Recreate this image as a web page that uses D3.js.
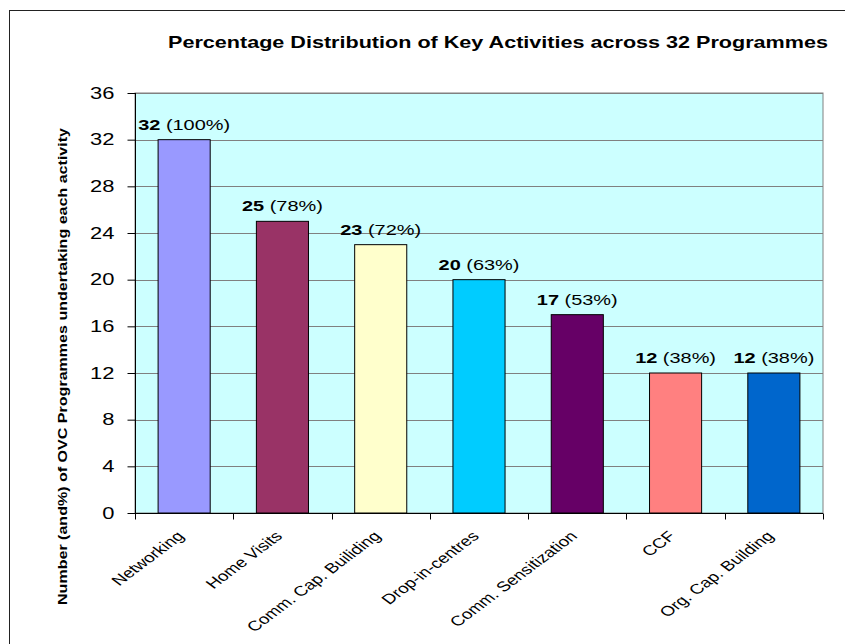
<!DOCTYPE html>
<html><head><meta charset="utf-8">
<script src="https://cdn.jsdelivr.net/npm/d3@7"></script>
<style>body{margin:0;background:#fff}svg{display:block}text{font-family:"Liberation Sans",Arial,sans-serif}</style>
</head><body>
<script>
const categories = ["Networking","Home Visits","Comm. Cap. Builiding","Drop-in-centres","Comm. Sensitization","CCF","Org. Cap. Building"];
const counts = [32,25,23,20,17,12,12];
const percents = [100,78,72,63,53,38,38];
const colors = ["#9999FF","#993366","#FFFFCC","#00CCFF","#660066","#FF8080","#0066CC"];
const yTicks = [0,4,8,12,16,20,24,28,32,36];
const title = "Percentage Distribution of Key Activities across 32 Programmes";
const yTitle = "Number (and%) of OVC Programmes undertaking each activity";

const W=845,H=644, SX=1.33;
const svg=d3.select("body").append("svg").attr("width",W).attr("height",H);
svg.append("rect").attr("x",9.5).attr("y",10.5).attr("width",900).attr("height",700).attr("fill","#fff").attr("stroke","#222").attr("stroke-width",1);

const L=135,R=823,T=93,B=513;
const x=d3.scaleBand().domain(categories).range([L,R]).paddingInner(0.47).paddingOuter(0.235);
const xb=d3.scaleBand().domain(categories).range([L,R]);
const y=d3.scaleLinear().domain([0,36]).range([B,T]);

svg.append("rect").attr("x",L).attr("y",T).attr("width",R-L).attr("height",B-T).attr("fill","#CCFFFF").attr("stroke","#808080");
svg.append("g").selectAll("line").data(yTicks.slice(1)).join("line")
  .attr("x1",L).attr("x2",R).attr("y1",d=>Math.round(y(d))+0.5).attr("y2",d=>Math.round(y(d))+0.5).attr("stroke","#808080");

svg.append("g").selectAll("rect").data(categories).join("rect")
  .attr("x",d=>x(d)).attr("width",x.bandwidth())
  .attr("y",(d,i)=>y(counts[i])).attr("height",(d,i)=>B-y(counts[i]))
  .attr("fill",(d,i)=>colors[i]).attr("stroke","#000").attr("stroke-width",1);

// y axis
const ya=svg.append("g").attr("transform",`translate(${L+0.5},0)`).call(d3.axisLeft(y).tickValues(yTicks).tickSize(8));
ya.selectAll("text").attr("font-size",16.5).attr("fill","#000").style("font-family","Liberation Sans, Arial")
  .attr("x",-21/SX).attr("transform",`scale(${SX},1)`);
ya.selectAll("line,path").attr("stroke","#000");
ya.select(".domain").attr("d",`M0,${T}V${B}`);

// x axis
const xa=svg.append("g").attr("transform",`translate(0,${B+0.5})`);
xa.append("line").attr("x1",L).attr("x2",R).attr("stroke","#000");
xa.selectAll("line.t").data(d3.range(categories.length+1)).join("line").attr("class","t")
  .attr("x1",i=>Math.round(L+i*xb.step())+0.5).attr("x2",i=>Math.round(L+i*xb.step())+0.5).attr("y1",0).attr("y2",6).attr("stroke","#000");
svg.append("g").selectAll("text").data(categories).join("text")
  .attr("transform",d=>`translate(${x(d)+x.bandwidth()/2+1},${B+24}) scale(${SX},1) rotate(-45)`)
  .attr("text-anchor","end").attr("font-size",14).attr("fill","#000").text(d=>d);

// data labels
const lab=svg.append("g").selectAll("text").data(categories).join("text")
  .attr("text-anchor","middle").attr("font-size",15).attr("fill","#000")
  .attr("transform",(d,i)=>`translate(${x(d)+x.bandwidth()/2},${y(counts[i])-10}) scale(${SX},1)`);
lab.append("tspan").attr("font-weight","bold").text((d,i)=>counts[i]);
lab.append("tspan").text((d,i)=>` (${percents[i]}%)`);

svg.append("text").attr("x",168).attr("y",48).attr("font-size",16.5).attr("font-weight","bold")
  .attr("textLength",660).attr("lengthAdjust","spacingAndGlyphs").text(title);
svg.append("text").attr("transform","translate(67,605) rotate(-90)").attr("font-size",13).attr("font-weight","bold")
  .attr("textLength",477).attr("lengthAdjust","spacingAndGlyphs").text(yTitle);
</script>
</body></html>
